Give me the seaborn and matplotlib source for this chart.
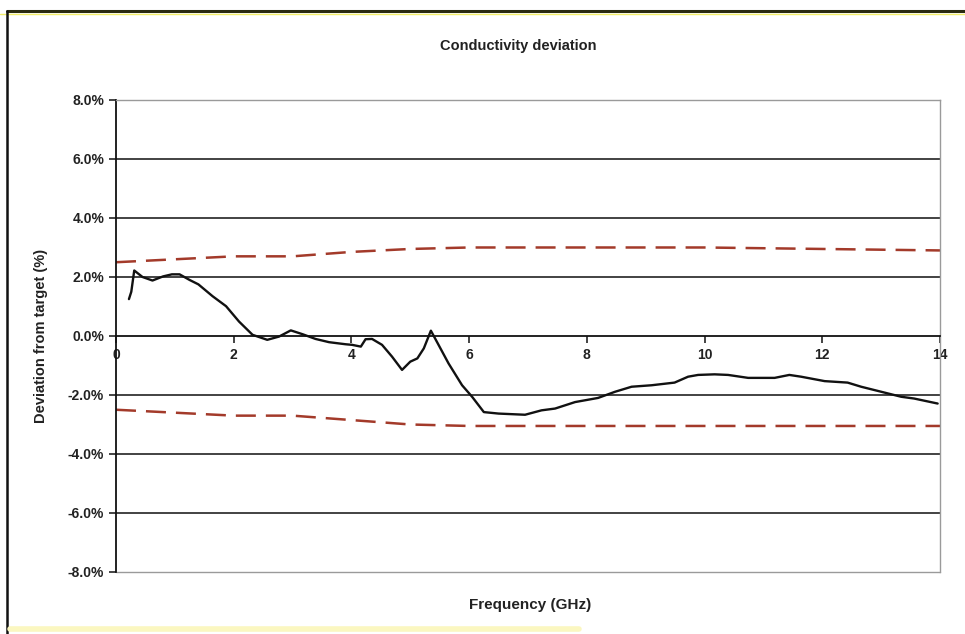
import matplotlib
matplotlib.use("Agg")
import matplotlib.pyplot as plt
from matplotlib.lines import Line2D
from matplotlib.ticker import FuncFormatter, MultipleLocator
import seaborn as sns
import pandas as pd

# measured deviation curve (GHz, %)
freq_ghz = [0.22, 0.26, 0.31, 0.45, 0.62, 0.80, 0.95, 1.08, 1.25, 1.40, 1.64, 1.87,
            2.09, 2.32, 2.57, 2.77, 2.97, 3.17, 3.39, 3.62, 3.90, 4.01, 4.16, 4.24,
            4.35, 4.52, 4.69, 4.86, 5.00, 5.12, 5.23, 5.35, 5.48, 5.65, 5.88, 6.05,
            6.25, 6.50, 6.95, 7.23, 7.46, 7.80, 8.19, 8.48, 8.76, 9.10, 9.49, 9.72,
            9.89, 10.17, 10.40, 10.74, 11.19, 11.44, 11.64, 12.04, 12.43, 12.66,
            13.00, 13.34, 13.56, 13.96]
deviation = [1.25, 1.50, 2.22, 2.00, 1.88, 2.02, 2.09, 2.09, 1.90, 1.75, 1.35, 1.01,
             0.49, 0.04, -0.13, -0.02, 0.19, 0.06, -0.10, -0.21, -0.28, -0.30, -0.36,
             -0.11, -0.10, -0.30, -0.70, -1.15, -0.87, -0.76, -0.42, 0.18, -0.30,
             -0.93, -1.67, -2.06, -2.58, -2.63, -2.67, -2.52, -2.46, -2.24, -2.10,
             -1.89, -1.72, -1.67, -1.58, -1.38, -1.32, -1.30, -1.32, -1.42, -1.42,
             -1.32, -1.38, -1.53, -1.58, -1.72, -1.89, -2.06, -2.12, -2.29]

# tolerance limits (GHz, %)
limit_ghz = [0, 1, 2, 3, 4, 5, 6, 8, 10, 12, 14]
upper_limit = [2.5, 2.6, 2.7, 2.7, 2.85, 2.95, 3.0, 3.0, 3.0, 2.95, 2.9]
lower_limit = [-2.5, -2.6, -2.7, -2.7, -2.85, -3.0, -3.05, -3.05, -3.05, -3.05, -3.05]

sns.set_theme(style="white")
plt.rcParams['font.family'] = ['Liberation Sans', 'DejaVu Sans']

fig = plt.figure(figsize=(9.65, 6.34), dpi=100)
ax = fig.add_axes([0.1202, 0.0978, 0.8539, 0.7445])

curve = pd.DataFrame({"Frequency": freq_ghz, "Deviation": deviation})
limits = pd.DataFrame({"Frequency": limit_ghz, "Upper": upper_limit, "Lower": lower_limit})

# gridlines at +/-2, 4, 6
for yv in [-6, -4, -2, 2, 4, 6]:
    ax.axhline(yv, color='#222222', linewidth=1.2, zorder=1)

sns.lineplot(data=limits, x="Frequency", y="Upper", ax=ax, color='#a33a2a',
             linewidth=1.8, dashes=False, zorder=2)
sns.lineplot(data=limits, x="Frequency", y="Lower", ax=ax, color='#a33a2a',
             linewidth=1.8, dashes=False, zorder=2)
for ln in ax.lines[-2:]:
    ln.set_dashes((8, 4))
sns.lineplot(data=curve, x="Frequency", y="Deviation", ax=ax, color='#111111',
             linewidth=1.7, sort=False, zorder=3)

ax.set_xlim(0, 14)
ax.set_ylim(-8, 8)
ax.xaxis.set_major_locator(MultipleLocator(2))
ax.yaxis.set_major_locator(MultipleLocator(2))
ax.yaxis.set_major_formatter(FuncFormatter(lambda v, p: f"{v:.1f}%"))

# spines: left axis black, x axis at zero, grey plot-area frame
ax.spines['left'].set_color('#111111')
ax.spines['left'].set_linewidth(1.3)
ax.spines['bottom'].set_position(('data', 0))
ax.spines['bottom'].set_color('#111111')
ax.spines['bottom'].set_linewidth(1.3)
for s in ['top', 'right']:
    ax.spines[s].set_color('#9a9a9a')
    ax.spines[s].set_linewidth(1.0)
ax.plot([0, 14], [-8, -8], color='#9a9a9a', linewidth=1.0, clip_on=False, zorder=1)

ax.tick_params(axis='both', which='major', direction='out', length=5, width=1.1,
               color='#111111', labelsize=10, bottom=True, left=True)
for lab in ax.get_xticklabels() + ax.get_yticklabels():
    lab.set_fontweight('bold')
    lab.set_color('#222222')

ax.set_xlabel("")
ax.set_ylabel("Deviation from target (%)", fontsize=10.5, fontweight='bold',
              color='#222222', labelpad=14)
fig.text(0.549, 0.046, "Frequency (GHz)", ha='center', va='center',
         fontsize=11, fontweight='bold', color='#222222')
fig.text(0.537, 0.928, "Conductivity deviation", ha='center', va='center',
         fontsize=10.5, fontweight='bold', color='#222222')

# outer chart frame (scanned border)
fig.add_artist(Line2D([0.007, 1.0], [0.983, 0.983], color='#2a2a10', linewidth=2.2))
fig.add_artist(Line2D([0.0, 1.0], [0.978, 0.978], color='#f2ee6a', linewidth=1.0))
fig.add_artist(Line2D([0.007, 0.007], [0.0, 0.983], color='#111111', linewidth=1.8))
fig.add_artist(Line2D([0.01, 0.6], [0.008, 0.008], color='#fbf7c0', linewidth=4))

fig.savefig("out.png", dpi=100)
